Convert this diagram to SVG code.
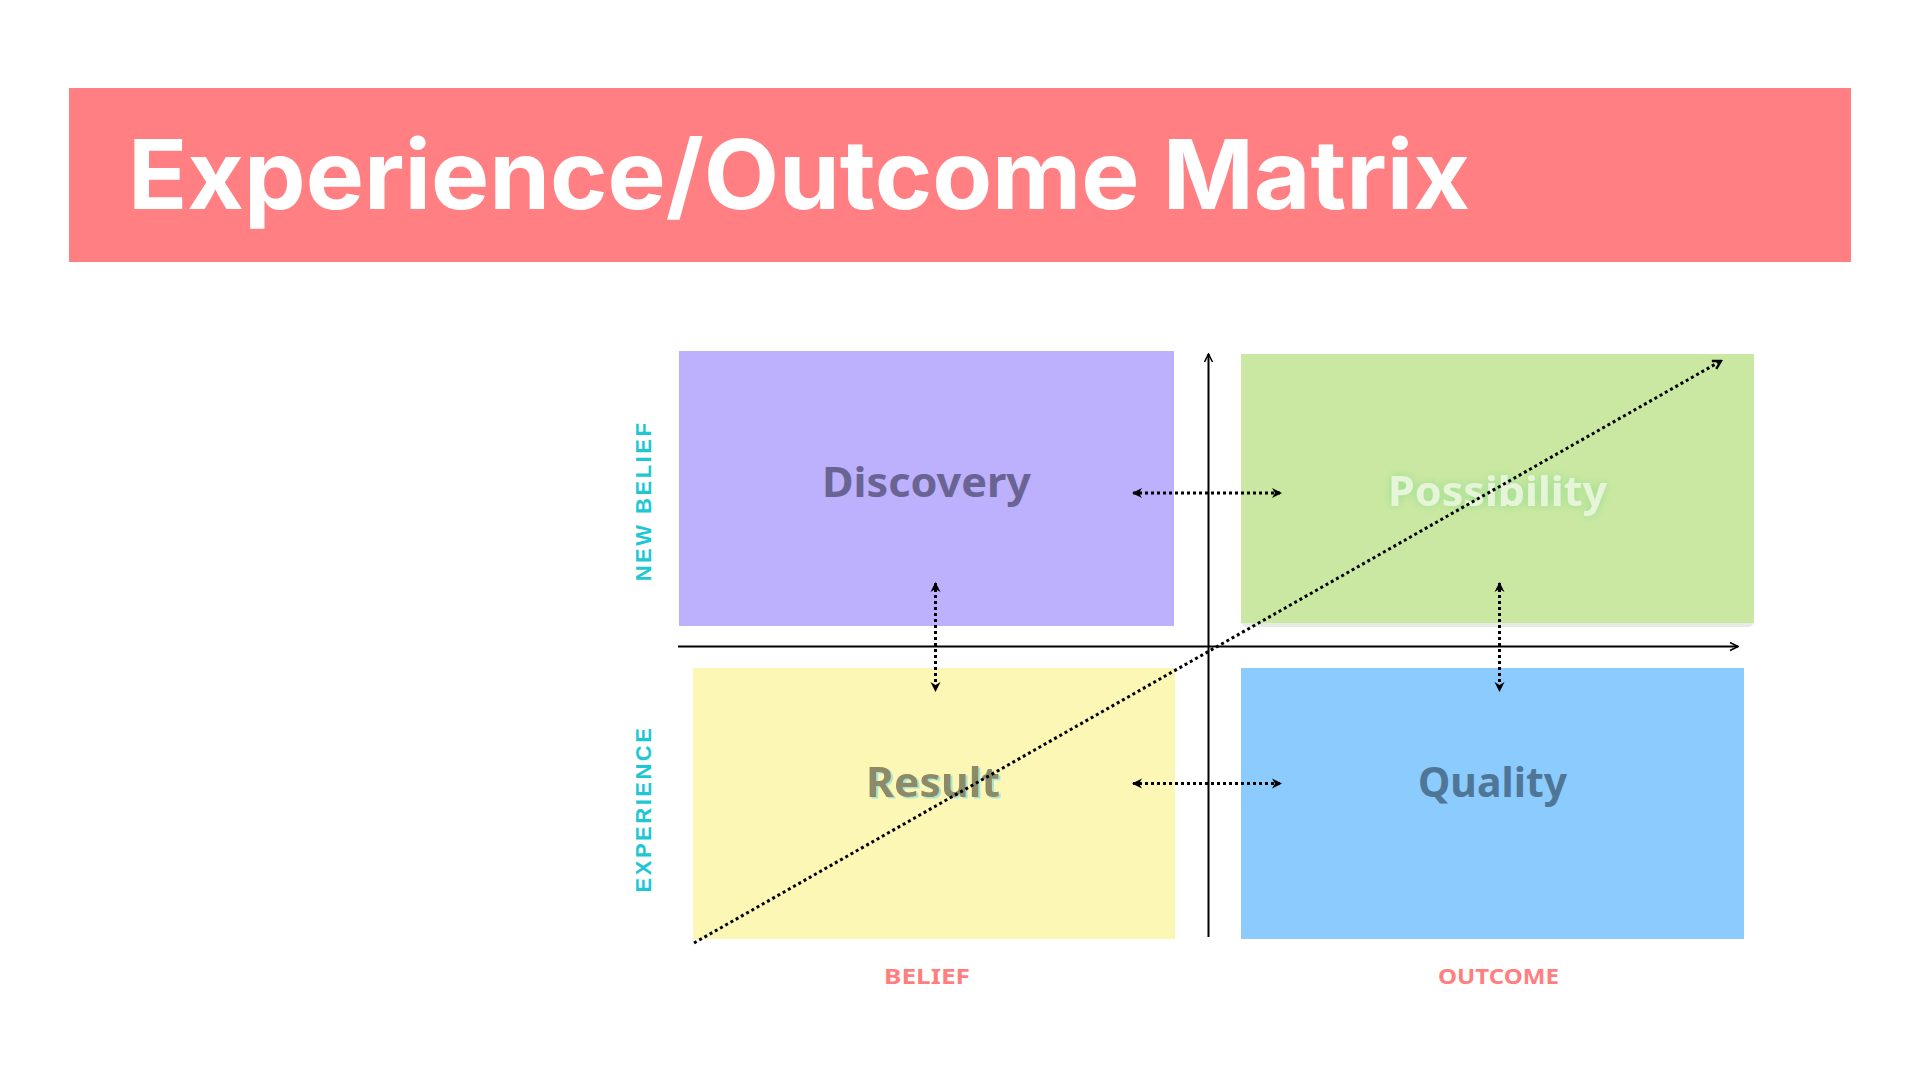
<svg xmlns="http://www.w3.org/2000/svg" width="1920" height="1080" viewBox="0 0 1920 1080">
  <style>
    .title { font-family: Inter, "Noto Sans", "Liberation Sans", sans-serif; font-weight: 700; font-size: 96px; fill: #ffffff; }
    .quad { font-family: "Noto Sans", Inter, "Liberation Sans", sans-serif; font-weight: 700; font-size: 42px; text-anchor: start; }
    .side { font-family: "Liberation Sans", Arial, sans-serif; font-weight: 700; font-size: 22px; fill: #1ec8d2; text-anchor: middle; letter-spacing: 2.5px; }
    .bottom { font-family: "Noto Sans", "Liberation Sans", sans-serif; font-weight: 700; font-size: 21px; fill: #ff7f7f; text-anchor: start; }
    .axis { stroke: #000000; stroke-width: 2; fill: none; }
    .dotted { stroke: #000000; stroke-width: 3; fill: none; stroke-dasharray: 3 3; }
  </style>
  <defs>
    <marker id="axisHead" viewBox="0 0 10 10" refX="9" refY="5" markerWidth="10" markerHeight="10" markerUnits="userSpaceOnUse" orient="auto">
      <path d="M1,1 L9,5 L1,9" fill="none" stroke="#000" stroke-width="1.6"/>
    </marker>
    <marker id="openHead" viewBox="0 0 12 12" refX="10" refY="6" markerWidth="12" markerHeight="12" markerUnits="userSpaceOnUse" orient="auto">
      <path d="M2,1.5 L10,6 L2,10.5" fill="none" stroke="#000" stroke-width="2.4"/>
    </marker>
    <marker id="solidHead" viewBox="0 0 12 12" refX="10" refY="6" markerWidth="12" markerHeight="12" markerUnits="userSpaceOnUse" orient="auto-start-reverse">
      <path d="M1,1 L11,6 L1,11 L4,6 z" fill="#000"/>
    </marker>
    <filter id="glow" x="-20%" y="-60%" width="140%" height="220%">
      <feGaussianBlur in="SourceAlpha" stdDeviation="5" result="b"/>
      <feFlood flood-color="#8edc8a" flood-opacity="0.9"/>
      <feComposite in2="b" operator="in" result="g"/>
      <feMerge><feMergeNode in="g"/><feMergeNode in="SourceGraphic"/></feMerge>
    </filter>
    <filter id="soft" x="-10%" y="-30%" width="120%" height="160%">
      <feDropShadow dx="2" dy="1.5" stdDeviation="0.6" flood-color="#9fe2d8" flood-opacity="0.9"/>
    </filter>
  </defs>

  <rect width="1920" height="1080" fill="#ffffff"/>

  <!-- title banner -->
  <g id="banner">
    <rect x="69" y="88" width="1782" height="174" fill="#ff7f82"/>
    <text class="title" x="128" y="209" textLength="1342" lengthAdjust="spacingAndGlyphs">Experience/Outcome Matrix</text>
  </g>

  <!-- quadrants -->
  <g id="discovery">
    <rect x="679" y="351" width="495" height="275" fill="#bdb0fd"/>
    <text class="quad" x="822" y="497" fill="#6a6494" textLength="209" lengthAdjust="spacingAndGlyphs">Discovery</text>
  </g>
  <g id="possibility">
    <rect x="1241" y="357" width="513" height="270" rx="6" fill="#e6ebe6"/>
    <rect x="1241" y="354" width="513" height="269" fill="#cbe8a2"/>
    <text class="quad" x="1388" y="506" fill="#e6f5d8" filter="url(#glow)" textLength="219" lengthAdjust="spacingAndGlyphs">Possibility</text>
  </g>
  <g id="result">
    <rect x="693" y="668" width="482" height="271" fill="#fcf7b4"/>
    <text class="quad" x="866" y="797" fill="#8d8a67" filter="url(#soft)" textLength="134" lengthAdjust="spacingAndGlyphs">Result</text>
  </g>
  <g id="quality">
    <rect x="1241" y="668" width="503" height="271" fill="#8bcbfd"/>
    <text class="quad" x="1418" y="797" fill="#4f7696" textLength="149" lengthAdjust="spacingAndGlyphs">Quality</text>
  </g>

  <!-- axis labels -->
  <g id="axis-labels">
    <text class="side" transform="translate(651,501) rotate(-90)">NEW BELIEF</text>
    <text class="side" transform="translate(651,809) rotate(-90)">EXPERIENCE</text>
    <text class="bottom" x="884" y="984" textLength="86" lengthAdjust="spacingAndGlyphs">BELIEF</text>
    <text class="bottom" x="1438" y="984" textLength="121" lengthAdjust="spacingAndGlyphs">OUTCOME</text>
  </g>

  <!-- axes and connectors -->
  <g id="connectors">
    <line class="axis" x1="678" y1="646.5" x2="1738" y2="646.5" marker-end="url(#axisHead)"/>
    <line class="axis" x1="1208.5" y1="937" x2="1208.5" y2="354" marker-end="url(#axisHead)"/>
    <line class="dotted" x1="694" y1="943" x2="1721" y2="361" marker-end="url(#openHead)"/>
    <line class="dotted" x1="1133" y1="493" x2="1281" y2="493" marker-start="url(#solidHead)" marker-end="url(#solidHead)"/>
    <line class="dotted" x1="1133" y1="783.5" x2="1281" y2="783.5" marker-start="url(#solidHead)" marker-end="url(#solidHead)"/>
    <line class="dotted" x1="935.5" y1="583" x2="935.5" y2="691" marker-start="url(#solidHead)" marker-end="url(#solidHead)"/>
    <line class="dotted" x1="1499.5" y1="583" x2="1499.5" y2="691" marker-start="url(#solidHead)" marker-end="url(#solidHead)"/>
  </g>
</svg>
